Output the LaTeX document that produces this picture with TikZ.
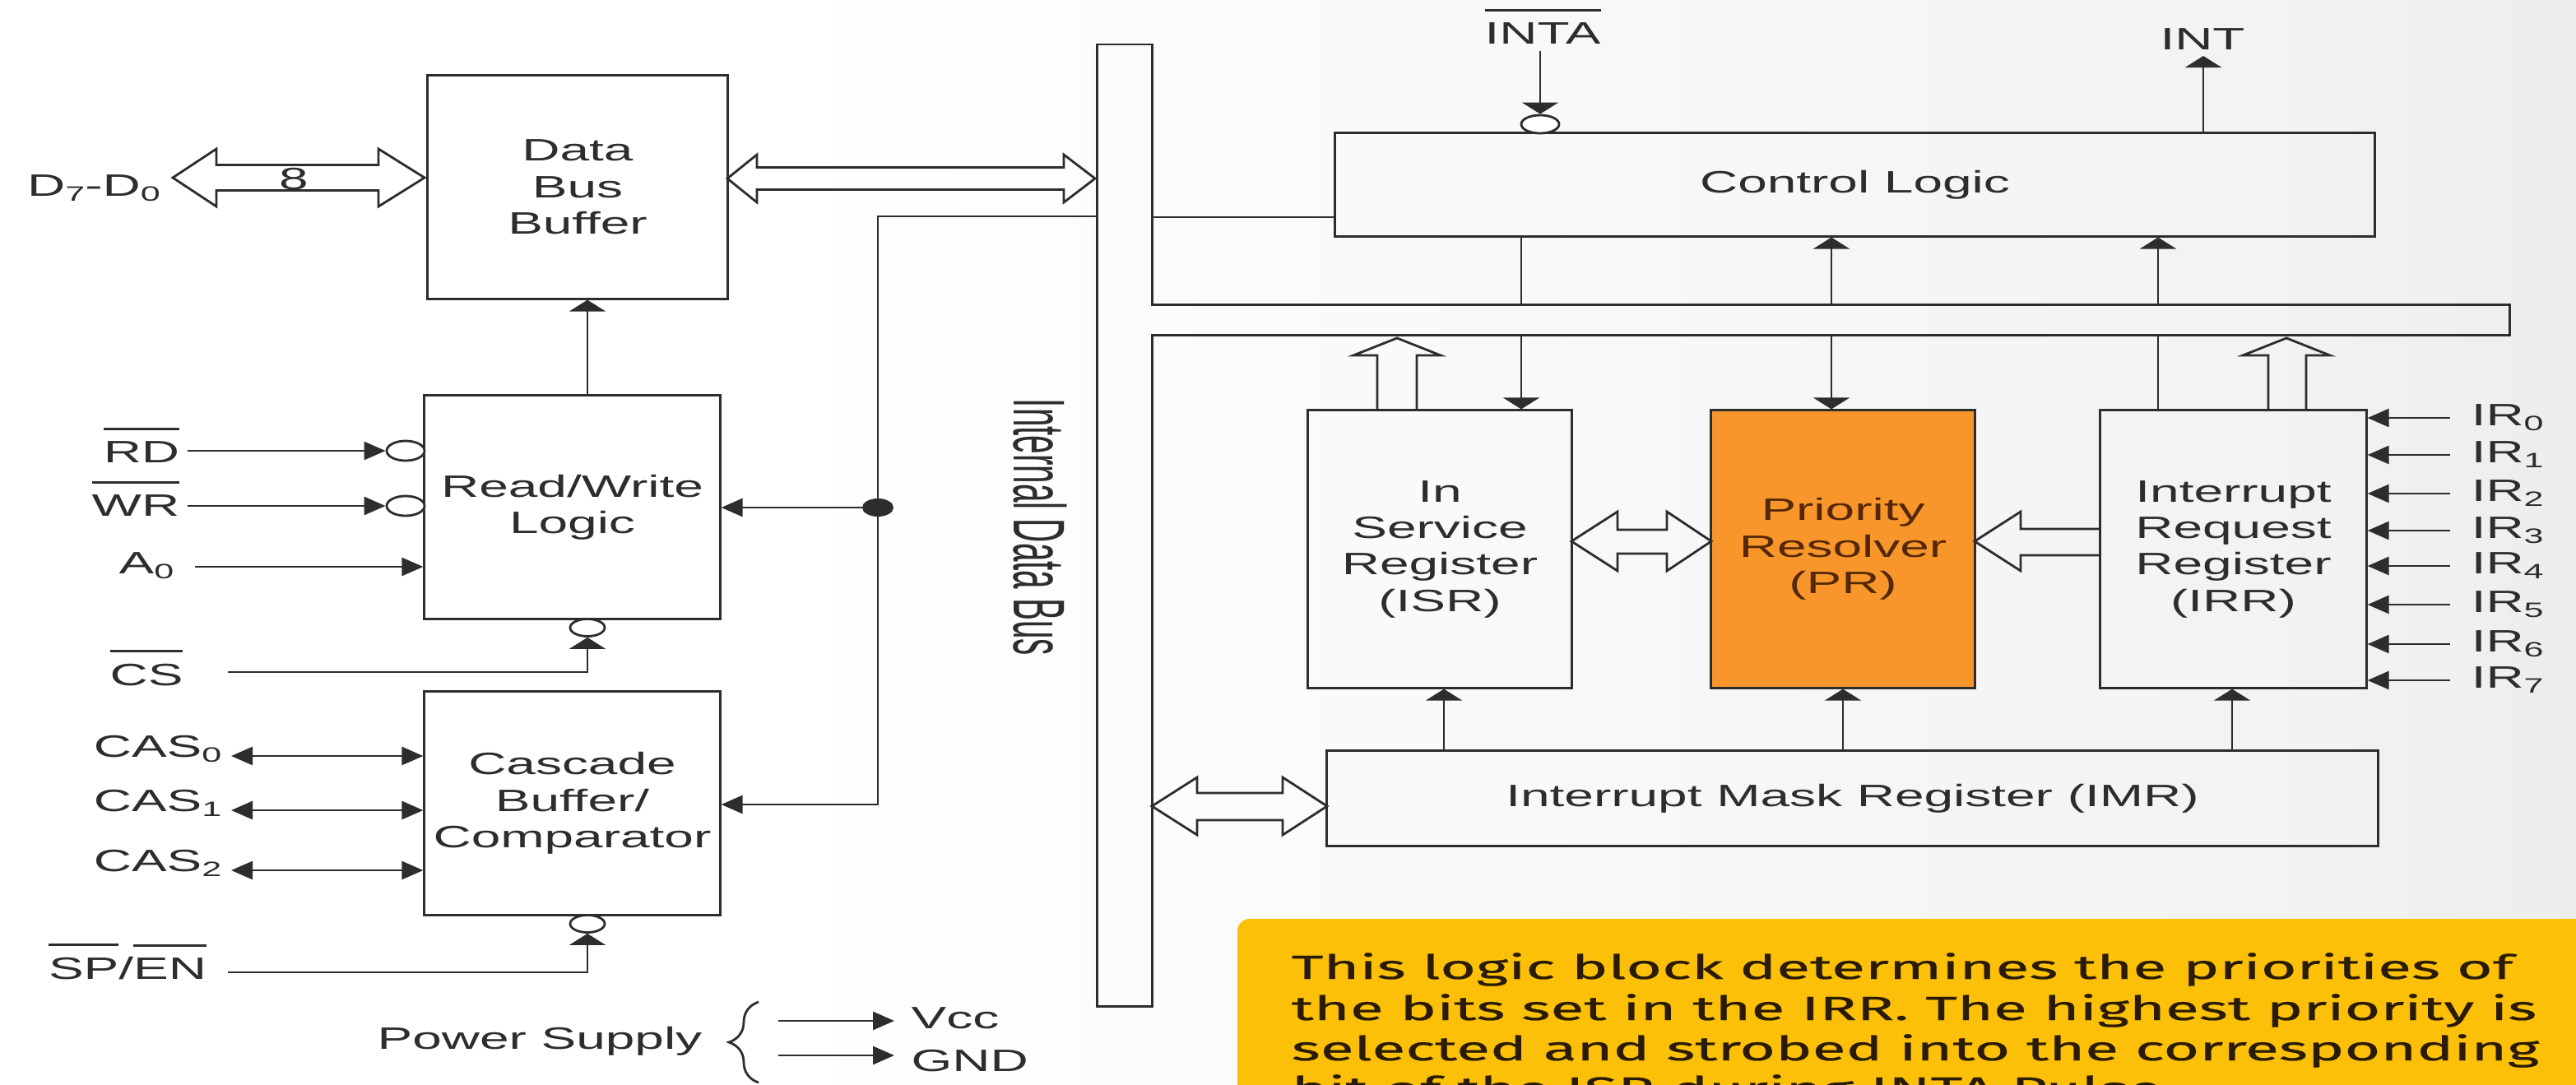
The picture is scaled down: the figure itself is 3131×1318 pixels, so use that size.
\documentclass[tikz,border=0pt]{standalone}
\usepackage{graphicx}
\usepackage{fontspec}
\setmainfont[FakeStretch=1.7]{Liberation Sans}
\newfontfamily\plainsans{Liberation Sans}
\newfontfamily\notefont[FakeStretch=1.84,FakeBold=0.6]{Fira Sans}
\usetikzlibrary{arrows.meta,decorations.pathreplacing,shapes.geometric}
\definecolor{ink}{RGB}{45,45,45}
\definecolor{prfill}{RGB}{248,150,44}
\definecolor{prtext}{RGB}{85,40,5}
\definecolor{notebg}{RGB}{252,192,8}
\definecolor{notetext}{RGB}{42,28,4}
\newcommand{\ovl}[1]{\vbox{\hrule height 0.9pt\kern 3.8pt\hbox{#1}}}
\newcommand{\sbs}[1]{\raisebox{-0.35ex}{\fontsize{7.2}{8}\selectfont #1}}
\pgfdeclarehorizontalshading{bgshade}{100bp}{color(0bp)=(white); color(40bp)=(white); color(70bp)=(white!95!black); color(100bp)=(white!83!black)}
\begin{document}
\begin{tikzpicture}[x=0.01cm,y=-0.01cm,
  blk/.style={draw=ink, line width=0.85pt, inner sep=0pt, text=ink, align=center, font=\fontsize{10.7}{12.6}\selectfont},
  wire/.style={draw=ink, line width=0.8pt},
  harr/.style={wire, -{Triangle[length=0.26cm,width=0.22cm]}},
  varr/.style={wire, -{Triangle[length=0.14cm,width=0.44cm]}},
  dharr/.style={wire, {Triangle[length=0.26cm,width=0.22cm]}-{Triangle[length=0.26cm,width=0.22cm]}},
  hollow/.style={draw=ink, line width=0.8pt, line join=miter},
  bubble/.style={draw=ink, line width=0.8pt, fill=white, ellipse, inner sep=0pt},
  lbl/.style={text=ink, inner sep=0pt, font=\fontsize{10.7}{12.6}\selectfont},
  notestyle/.style={text=notetext, inner sep=0pt, anchor=base west, font=\notefont\fontsize{11.6}{13.9}\selectfont}]
\clip (0,0) rectangle (3131,1318);
\useasboundingbox (0,0) rectangle (3131,1318);
\shade[shading=bgshade] (0,0) rectangle (3131,1318);

% ---------- internal data bus ----------
\draw[wire, line width=0.85pt] (1333,54) -- (1400,54) -- (1400,370) -- (3050,370) -- (3050,407) -- (1400,407) -- (1400,1223) -- (1333,1223) -- cycle;
\node[text=ink, inner sep=0pt, rotate=-90] (busl) at (1264,641) {\scalebox{1}[2.2]{\plainsans\fontsize{11.5}{13}\selectfont Internal Data Bus}};
\coordinate (busL) at (1333,0);
\coordinate (busR) at (1400,0);

% ---------- left blocks ----------
\node[blk, minimum width=3.64cm, minimum height=2.71cm] (DBB) at (702,227.5) {Data\\Bus\\Buffer};
\node[blk, minimum width=3.59cm, minimum height=2.71cm] (RW) at (695.5,616.5) {Read/Write\\Logic};
\node[blk, minimum width=3.59cm, minimum height=2.71cm] (CBC) at (695.5,976.5) {Cascade\\Buffer/\\Comparator};

% D7-D0 bus arrow
\node[lbl, anchor=base] (dlab) at (114,238) {D\sbs{7}-D\sbs{0}};
\draw[hollow] (210,216) -- (263,181) -- (263,200.5) -- (460,200.5) -- (460,181) -- (516,216) -- (460,251) -- (460,231.5) -- (263,231.5) -- (263,251) -- cycle;
\node[lbl] (eight) at (357,218) {8};
% DBB to internal bus
\draw[hollow] (884,217) -- (920,188) -- (920,203.5) -- (1293,203.5) -- (1293,188) -- (1331,217) -- (1293,246) -- (1293,230.5) -- (920,230.5) -- (920,246) -- cycle;

% RW -> DBB
\coordinate (xA) at (714,0);
\draw[varr] (RW.north -| xA) -- (DBB.south -| xA);

% RD, WR, A0
\node[lbl, anchor=base] (rd) at (172,562) {\ovl{RD}};
\node[bubble, minimum width=0.46cm, minimum height=0.24cm] (rdb) at (493,548) {};
\draw[harr] (228,548) -- (rdb.west);
\node[lbl, anchor=base] (wr) at (165,627) {\ovl{WR}};
\node[bubble, minimum width=0.46cm, minimum height=0.24cm] (wrb) at (493,615) {};
\draw[harr] (228,615) -- (wrb.west);
\node[lbl, anchor=base] (a0) at (178,697) {A\sbs{0}};
\coordinate (a0s) at (237,689);
\draw[harr] (a0s) -- (a0s -| RW.west);

% CS
\node[lbl, anchor=base] (cs) at (178,833) {\ovl{CS}};
\node[bubble, minimum width=0.42cm, minimum height=0.21cm] (csb) at (714,763) {};
\coordinate (css) at (277,817);
\draw[varr] (css) -| (csb.south);

% CAS lines
\foreach \i/\y in {0/919,1/985,2/1058}{
  \node[lbl, anchor=base east] (cas\i) at (270,\y+1) {CAS\sbs{\i}};
  \coordinate (cass\i) at (281,\y);
  \draw[dharr] (cass\i) -- (cass\i -| CBC.west);
}

% SP/EN
\node[lbl, anchor=base] (sp) at (155,1190) {\ovl{SP}/\ovl{EN}};
\node[bubble, minimum width=0.42cm, minimum height=0.21cm] (spb) at (714,1123) {};
\coordinate (sps) at (277,1182);
\draw[varr] (sps) -| (spb.south);

% internal bus to RW and cascade
\coordinate (jtop) at (1067,263);
\draw[harr] (jtop -| busL) -- (jtop) |- (CBC.east |- 0,978);
\node[ellipse, fill=ink, minimum width=0.38cm, minimum height=0.22cm, inner sep=0pt] (dot) at (1067,617) {};
\draw[harr] (dot.center) -- (dot.center -| RW.east);

% power supply
\node[lbl, anchor=base] (ps) at (656,1275) {Power Supply};
\draw[wire, decorate, decoration={brace, amplitude=0.36cm}] (922,1316) -- (922,1218);
\node[lbl, anchor=base west] (vcc) at (1107,1250) {Vcc};
\node[lbl, anchor=base west] (gnd) at (1107,1302) {GND};
\coordinate (vccs) at (946,1241);
\coordinate (vcce) at (1087,1241);
\coordinate (gnds) at (946,1283);
\coordinate (gnde) at (1087,1283);
\draw[harr] (vccs) -- (vcce);
\draw[harr] (gnds) -- (gnde);

% ---------- right blocks ----------
\node[blk, minimum width=12.63cm, minimum height=1.25cm] (CL) at (2254.5,224.5) {Control Logic};
\node[blk, minimum width=3.20cm, minimum height=3.37cm] (ISR) at (1750,667.5) {In\\Service\\Register\\(ISR)};
\node[blk, fill=prfill, text=prtext, minimum width=3.20cm, minimum height=3.37cm] (PR) at (2240,667.5) {Priority\\Resolver\\(PR)};
\node[blk, minimum width=3.23cm, minimum height=3.37cm] (IRR) at (2714.5,667.5) {Interrupt\\Request\\Register\\(IRR)};
\node[blk, minimum width=12.77cm, minimum height=1.15cm] (IMR) at (2251.5,970.5) {Interrupt Mask Register (IMR)};

% bus to control logic
\coordinate (clc) at (1623,264);
\draw[wire] (clc -| busR) -- (clc -| CL.west);

% INTA, INT
\node[lbl, anchor=base] (inta) at (1875,53) {\ovl{INTA}};
\node[bubble, minimum width=0.46cm, minimum height=0.22cm] (intab) at (1872,151) {};
\coordinate (intas) at (1872,62);
\draw[varr] (intas) -- (intab.north);
\node[lbl, anchor=base] (int) at (2677,60) {INT};
\coordinate (inte) at (2678,68);
\draw[varr] (inte |- CL.north) -- (inte);

% control logic <-> bus <-> registers
\coordinate (k1t) at (1849,370); \coordinate (k1b) at (1849,407);
\coordinate (k2t) at (2226,370); \coordinate (k2b) at (2226,407);
\coordinate (k3t) at (2623,370); \coordinate (k3b) at (2623,407);
\draw[wire] (k1t |- CL.south) -- (k1t);
\draw[varr] (k1b) -- (k1b |- ISR.north);
\draw[varr] (k2t) -- (k2t |- CL.south);
\draw[varr] (k2b) -- (k2b |- PR.north);
\draw[varr] (k3t) -- (k3t |- CL.south);
\draw[wire] (k3b |- IRR.north) -- (k3b);

% hollow up arrows ISR, IRR to bus
\draw[hollow] (1674,499) -- (1674,432) -- (1645,432) -- (1698,411) -- (1751,432) -- (1722,432) -- (1722,499);
\draw[hollow] (2757,499) -- (2757,432) -- (2726,432) -- (2779,411) -- (2832,432) -- (2803,432) -- (2803,499);

% ISR <-> PR, IRR -> PR
\draw[hollow] (1910,658) -- (1966,622) -- (1966,644) -- (2026,644) -- (2026,622) -- (2080,658) -- (2026,694) -- (2026,673) -- (1966,673) -- (1966,694) -- cycle;
\draw[hollow] (2553,643) -- (2456,643) -- (2456,622) -- (2400,658) -- (2456,694) -- (2456,675) -- (2553,675);

% IMR <-> bus
\draw[hollow] (1400,980) -- (1455,945) -- (1455,964) -- (1559,964) -- (1559,945) -- (1613,980) -- (1559,1015) -- (1559,997) -- (1455,997) -- (1455,1015) -- cycle;

% IMR -> registers
\coordinate (m1) at (1755,0); \coordinate (m2) at (2240,0); \coordinate (m3) at (2713,0);
\draw[varr] (m1 |- IMR.north) -- (m1 |- ISR.south);
\draw[varr] (m2 |- IMR.north) -- (m2 |- PR.south);
\draw[varr] (m3 |- IMR.north) -- (m3 |- IRR.south);

% IR inputs
\foreach \i/\y in {0/508,1/553,2/600,3/645,4/688,5/735,6/783,7/827}{
  \coordinate (irs\i) at (2978,\y);
  \draw[harr] (irs\i) -- (irs\i -| IRR.east);
  \node[lbl, anchor=base west] (irl\i) at (3003,\y+9) {IR\sbs{\i}};
}

% ---------- note box ----------
\fill[notebg, rounded corners=0.15cm] (1504,1117) rectangle (3300,1420);
\node[notestyle] (note1) at (1569,1190) {This logic block determines the priorities of};
\node[notestyle] (note2) at (1569,1240) {the bits set in the IRR. The highest priority is};
\node[notestyle] (note3) at (1569,1289) {selected and strobed into the corresponding};
\node[notestyle] (note4) at (1569,1338) {bit of the ISR during INTA Pulse.};
\end{tikzpicture}
\end{document}
